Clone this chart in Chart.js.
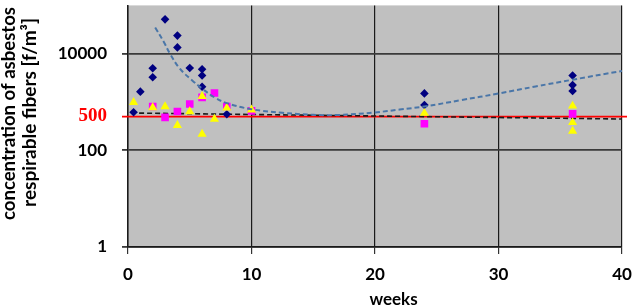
<!DOCTYPE html>
<html>
<head>
<meta charset="utf-8">
<script src="https://cdn.jsdelivr.net/npm/chart.js@4.4.1/dist/chart.umd.min.js"></script>
<style>
html,body{margin:0;padding:0;background:#fff;}
#wrap{width:632px;height:307px;}
</style>
</head>
<body>
<div id="wrap"><canvas id="c" width="632" height="307"></canvas></div>
<script>
// ---- data ----
const diamondWeeks  = [0.45, 1, 2, 2, 3, 4, 4, 5, 6, 6, 6, 8, 24, 24, 36, 36, 36];
const diamondValues = [616, 1640, 5000, 3270, 51500, 23700, 13500, 5080, 4760, 3540, 2070, 560, 1510, 870, 3540, 2240, 1690];

const squareWeeks  = [2, 3, 4, 5, 6, 7, 8, 10, 24, 36];
const squareValues = [807, 480, 637, 912, 1250, 1535, 807, 656, 355, 569];

const triangleWeeks  = [0.45, 2, 3, 4, 5, 6, 6, 7, 8, 10, 24, 36, 36, 36];
const triangleValues = [990, 770, 807, 329, 637, 1310, 218, 443, 755, 687, 588, 830, 378, 251];

const blueTrendWeeks  = [2.2, 2.9, 3.4, 4.2, 5.2, 6, 7, 8, 10, 12.5, 15, 17, 20, 22, 24, 27, 30, 33, 36, 40];
const blueTrendValues = [35000, 17500, 10000, 4900, 2800, 1900, 1250, 950, 710, 600, 545, 540, 610, 700, 810, 1100, 1500, 2100, 2900, 4400];

const blackTrendWeeks  = [0.9, 40];
const blackTrendValues = [590, 445];

const limitValue = 500;

const xTicks = [0, 10, 20, 30, 40];
const yTicks = [1, 100, 500, 10000, 100000];
const yTickLabels = {1: '1', 100: '100', 500: '500', 10000: '10000', 100000: ''};

const yTitleLines = ['concentration of asbestos', 'respirable fibers [f/m\u00B3]'];
const xTitle = 'weeks';

const toPts = (xs, ys) => xs.map((x, i) => ({x: x, y: ys[i]}));

const bgPlugin = {
  id: 'bg',
  beforeDraw(chart) {
    const {ctx, chartArea: a} = chart;
    ctx.save();
    ctx.fillStyle = '#C0C0C0';
    ctx.fillRect(a.left, a.top, a.right - a.left, a.bottom - a.top);
    ctx.restore();
  },
  beforeDatasetsDraw(chart) {
    const {ctx, chartArea: a, scales} = chart;
    const y = scales.y.getPixelForValue(limitValue);
    ctx.save();
    ctx.strokeStyle = '#FF0000';
    ctx.lineWidth = 1.6;
    ctx.beginPath();
    ctx.moveTo(a.left - 6, y);
    ctx.lineTo(a.right + 5, y);
    ctx.stroke();
    ctx.restore();
  },
  afterDraw(chart) {
    const {ctx, scales} = chart;
    ctx.save();
    ctx.fillStyle = '#000';
    ctx.textAlign = 'center';
    ctx.textBaseline = 'middle';
    const cys = [113.5, 112.5];
    const xs = [9, 30];
    const targetW = [213, 189];
    yTitleLines.forEach((t, i) => {
      ctx.font = 'bold 16px Lato';
      const w = ctx.measureText(t).width;
      const size = Math.max(13, Math.min(22, 16 * targetW[i] / w));
      ctx.font = 'bold ' + size.toFixed(2) + 'px Lato';
      ctx.save();
      ctx.translate(xs[i], cys[i]);
      ctx.rotate(-Math.PI / 2);
      ctx.fillText(t, 0, 0);
      ctx.restore();
    });
    ctx.textBaseline = 'alphabetic';
    ctx.font = 'bold 17px Lato';
    ctx.fillText(xTitle, scales.x.getPixelForValue(21.5), 305);
    ctx.restore();
  }
};

new Chart(document.getElementById('c'), {
  type: 'scatter',
  data: {
    datasets: [
      {
        label: 'triangles', data: toPts(triangleWeeks, triangleValues),
        pointStyle: 'triangle', pointRadius: 5.3, pointBackgroundColor: '#FFFF00',
        pointBorderColor: '#FFFF00', pointBorderWidth: 0, order: 1
      },
      {
        label: 'squares', data: toPts(squareWeeks, squareValues),
        pointStyle: 'rect', pointRadius: 5.4, pointBackgroundColor: '#FF00FF',
        pointBorderColor: '#FF00FF', pointBorderWidth: 0, order: 2
      },
      {
        label: 'diamonds', data: toPts(diamondWeeks, diamondValues),
        pointStyle: 'rectRot', pointRadius: 4.3, pointBackgroundColor: '#000080',
        pointBorderColor: '#000080', pointBorderWidth: 0, order: 3
      },
      {
        type: 'line', label: 'trend1', data: toPts(blueTrendWeeks, blueTrendValues),
        borderColor: '#4A76A8', borderWidth: 2, borderDash: [5, 3], pointRadius: 0,
        fill: false, tension: 0.4, order: 0
      },
      {
        type: 'line', label: 'trend2', data: toPts(blackTrendWeeks, blackTrendValues),
        borderColor: '#1a1a1a', borderWidth: 1.6, borderDash: [5, 3], pointRadius: 0,
        fill: false, order: 4
      }
    ]
  },
  options: {
    responsive: false,
    animation: false,
    events: [],
    layout: {padding: {top: 1, right: 10, left: 0, bottom: 0}},
    plugins: {legend: {display: false}, tooltip: {enabled: false}},
    scales: {
      x: {
        type: 'linear', min: 0, max: 40,
        afterBuildTicks: s => { s.ticks = xTicks.map(v => ({value: v})); },
        afterFit: s => { s.height = 60; s.paddingLeft = 0; s.paddingRight = 0; },
        border: {display: true, color: '#1a1a1a', width: 1.5},
        grid: {color: '#1a1a1a', lineWidth: 1.2, tickLength: 7, tickColor: '#333'},
        ticks: {
          color: '#000', font: {family: 'Lato', weight: 'bold', size: 17}, padding: 10,
          autoSkip: false, maxRotation: 0
        }
      },
      y: {
        type: 'logarithmic', min: 1, max: 100000,
        afterBuildTicks: s => { s.ticks = yTicks.map(v => ({value: v})); },
        afterFit: s => { s.width = 128; s.paddingTop = 0; s.paddingBottom = 0; },
        border: {display: true, color: '#1a1a1a', width: 1.5},
        grid: {
          color: c => (c.tick && (c.tick.value === 500 || c.tick.value === 100000)) ? 'rgba(0,0,0,0)' : '#3a3a3a',
          tickColor: c => (c.tick && (c.tick.value === 500 || c.tick.value === 100000)) ? 'rgba(0,0,0,0)' : '#3a3a3a',
          lineWidth: 1.8, tickLength: 6
        },
        ticks: {
          autoSkip: false, padding: 15,
          callback: v => yTickLabels[v] !== undefined ? yTickLabels[v] : '',
          color: c => (c.tick && c.tick.value === 500) ? '#FF0000' : '#000',
          font: c => (c.tick && c.tick.value === 500)
            ? {family: '"Liberation Serif"', weight: 'bold', size: 19}
            : {family: 'Lato', weight: 'bold', size: 17}
        }
      }
    }
  },
  plugins: [bgPlugin]
});
</script>
</body>
</html>
